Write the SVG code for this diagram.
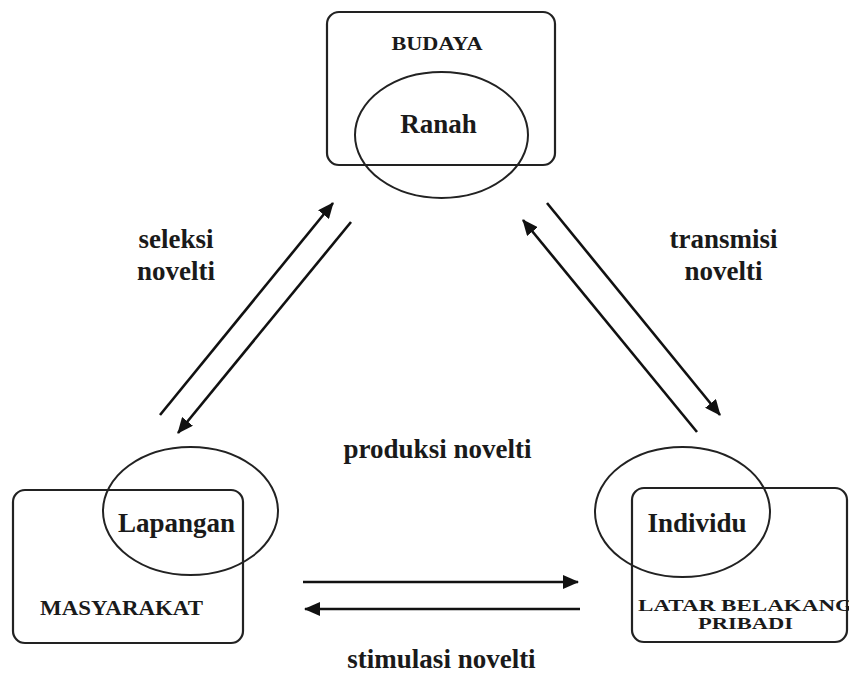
<svg xmlns="http://www.w3.org/2000/svg" width="849" height="675" viewBox="0 0 849 675">
<defs>
<style>
.box{fill:none;stroke:#222;stroke-width:2.2}
.ell{fill:none;stroke:#222;stroke-width:2}
.t{font-family:"Liberation Serif","Times New Roman",serif;font-weight:bold;fill:#1a1a1a}
.lbl{font-size:27px;text-anchor:middle}
.cap{font-size:19px}
.conn line{stroke:#111;stroke-width:2.6}
</style>
<marker id="ah" markerUnits="userSpaceOnUse" markerWidth="16" markerHeight="14" viewBox="0 0 16 14" refX="15" refY="7" orient="auto">
<path d="M0,0 L16,7 L0,14 z" fill="#111"/>
</marker>
</defs>
<rect width="849" height="675" fill="#fff"/>

<g id="budaya">
<rect class="box" x="327" y="12" width="228" height="153" rx="12"/>
<text class="t cap" x="437" y="50" text-anchor="middle" textLength="91" lengthAdjust="spacingAndGlyphs">BUDAYA</text>
<ellipse class="ell" cx="441.5" cy="135" rx="86.5" ry="63"/>
<text class="t lbl" x="438.5" y="133">Ranah</text>
</g>

<g id="masyarakat">
<rect class="box" x="13" y="490" width="230" height="153" rx="12"/>
<ellipse class="ell" cx="190.5" cy="511" rx="87.5" ry="64"/>
<text class="t lbl" x="176.5" y="532">Lapangan</text>
<text class="t cap" x="121.5" y="615" text-anchor="middle" textLength="163" lengthAdjust="spacingAndGlyphs" style="font-size:20px">MASYARAKAT</text>
</g>

<g id="individu">
<rect class="box" x="632" y="488" width="215" height="154" rx="12"/>
<ellipse class="ell" cx="682.5" cy="512" rx="87.5" ry="65"/>
<text class="t lbl" x="697" y="532">Individu</text>
<text class="t cap" x="638" y="611" textLength="215" lengthAdjust="spacingAndGlyphs" style="font-size:17px">LATAR BELAKANG</text>
<text class="t cap" x="745.5" y="629" text-anchor="middle" textLength="95" lengthAdjust="spacingAndGlyphs" style="font-size:17px">PRIBADI</text>
</g>

<g id="connectors" class="conn">
<line x1="160" y1="415" x2="333" y2="203" marker-end="url(#ah)"/>
<line x1="351" y1="222" x2="178" y2="433" marker-end="url(#ah)"/>
<line x1="697" y1="432" x2="523" y2="220" marker-end="url(#ah)"/>
<line x1="547" y1="203" x2="720" y2="415" marker-end="url(#ah)"/>
<line x1="303" y1="582" x2="578" y2="582" marker-end="url(#ah)"/>
<line x1="580" y1="609" x2="305" y2="609" marker-end="url(#ah)"/>
</g>

<g id="labels">
<text class="t lbl" x="176" y="248">seleksi</text>
<text class="t lbl" x="176" y="280">novelti</text>
<text class="t lbl" x="723.5" y="248">transmisi</text>
<text class="t lbl" x="723.5" y="280">novelti</text>
<text class="t lbl" x="437.5" y="458">produksi novelti</text>
<text class="t lbl" x="441.5" y="668">stimulasi novelti</text>
</g>
</svg>
